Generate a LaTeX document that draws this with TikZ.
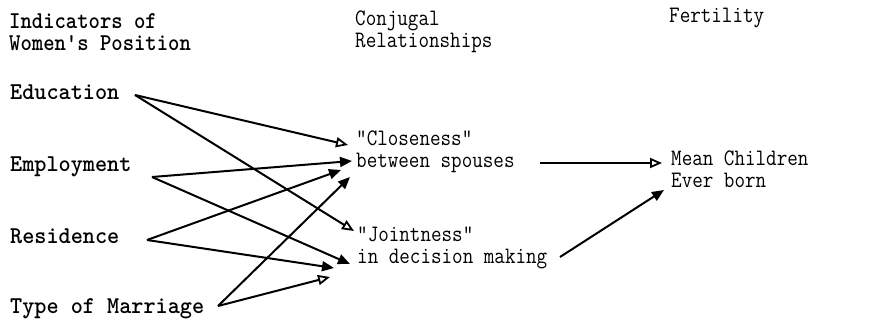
\documentclass[tikz,border=0pt]{standalone}
\usepackage{fontspec}
\usepackage{graphicx}
\setmainfont{Latin Modern Mono}[Ligatures=TeXOff]
\newfontfamily\heavymono{lmmonolt10-bold}[Extension=.otf,Ligatures=TeXOff]
\usetikzlibrary{arrows.meta}
\newcommand\vsc[1]{\scalebox{1}[1.15]{#1}}
\newcommand\bsc[1]{\scalebox{1.1}[1.15]{#1}}
\begin{document}
\begin{tikzpicture}[x=1pt,y=-1pt,
 lbl/.style={anchor=base west,inner sep=0pt,font=\fontsize{20.5}{22}\selectfont,align=left},
 blbl/.style={lbl,font=\fontsize{21}{22}\selectfont\heavymono},
 arr/.style={line width=2pt,-{Triangle[length=12pt,width=10pt]}},
 oarr/.style={line width=2pt,-{Triangle[open,length=12pt,width=10pt,line width=1.8pt]}}]
\useasboundingbox (0,0) rectangle (893,321);
% headings (two-line nodes: base = last line)
\node[blbl] (hdr1) at (9,51) {\scalebox{1.03}[1.15]{Indicators of}\\\scalebox{1.03}[1.15]{Women's Position}};
\node[lbl] (hdr2) at (355,48) {\vsc{Conjugal}\\\vsc{Relationships}};
\node[lbl] (hdr3) at (669,23) {\vsc{Fertility}};
% left column
\node[blbl] (edu) at (10,99) {\bsc{Education}};
\node[blbl] (emp) at (10,171) {\bsc{Employment}};
\node[blbl] (res) at (10,243) {\bsc{Residence}};
\node[blbl] (tom) at (10,313) {\bsc{Type of Marriage}};
% middle
\node[lbl] (clo) at (356,167) {\vsc{"Closeness"}\\\vsc{between spouses}};
\node[lbl] (joi) at (357,263) {\vsc{"Jointness"}\\\vsc{in decision making}};
% right
\node[lbl] (mean) at (671,187) {\vsc{Mean Children}\\\vsc{Ever born}};
% connector ends
\coordinate (eduO) at (135,95);
\coordinate (empO) at (152,177);
\coordinate (resO) at (147,240);
\coordinate (tomO) at (218,306);
\coordinate (cloA1) at (348,145);
\coordinate (cloA2) at (352,161);
\coordinate (cloA3) at (341,170);
\coordinate (cloA4) at (350,177);
\coordinate (joiA1) at (354,231);
\coordinate (joiA2) at (350,264);
\coordinate (joiA3) at (334,268);
\coordinate (joiA4) at (330,277);
\coordinate (cloO) at (540,163);
\coordinate (joiO) at (560,257);
\coordinate (meanA1) at (662,163);
\coordinate (meanA2) at (664,190);
% connectors
\draw[oarr] (eduO) -- (cloA1);
\draw[oarr] (eduO) -- (joiA1);
\draw[arr] (empO) -- (cloA2);
\draw[arr] (empO) -- (joiA2);
\draw[arr] (resO) -- (cloA3);
\draw[arr] (resO) -- (joiA3);
\draw[arr] (tomO) -- (cloA4);
\draw[oarr] (tomO) -- (joiA4);
\draw[oarr] (cloO) -- (meanA1);
\draw[arr] (joiO) -- (meanA2);
\end{tikzpicture}
\end{document}
